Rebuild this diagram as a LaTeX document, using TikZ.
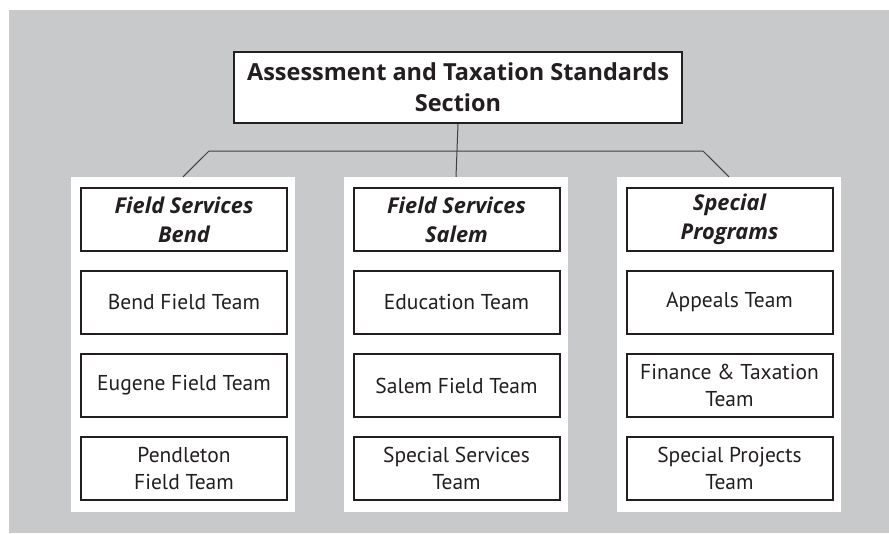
\documentclass[tikz,border=0pt]{standalone}
\usepackage{fontspec}
\setmainfont{PT Sans}
\newfontfamily\boldhead{Open Sans}
\definecolor{BackClr}{RGB}{200,201,203}
\definecolor{InkClr}{RGB}{35,31,32}
\definecolor{LinkClr}{RGB}{64,64,66}

\begin{document}
\begin{tikzpicture}[x=1pt,y=-1pt,
  panel/.style={fill=white,minimum width=224pt,minimum height=335pt,inner sep=0pt},
  unit/.style={draw=InkClr,line width=2pt,fill=white,text=InkClr,align=center,
    minimum width=206pt,minimum height=63pt,inner sep=0pt},
  head/.style={unit,font=\boldhead\fontsize{21.8}{29}\selectfont\bfseries\itshape},
  team/.style={unit,font=\fontsize{21.5}{27}\selectfont},
  link/.style={draw=LinkClr,line width=1pt}]

\useasboundingbox (0,0) rectangle (889,533);
\fill[BackClr] (9,10) rectangle (889,533);

% top of the chart
\node[unit,minimum width=448pt,minimum height=71pt,
  font=\boldhead\fontsize{23.5}{31}\selectfont\bfseries] (ats) at (458,87.5)
  {Assessment and Taxation Standards\\Section};

% the three white columns
\node[panel] (bendcol) at (183,344.5) {};
\node[panel] (salemcol) at (456,344.5) {};
\node[panel] (progcol) at (729,344.5) {};

\coordinate (jl) at (209,151);
\coordinate (jr) at (703,151);

\draw[link] (ats.south) -- (salemcol.north);
\draw[link] (bendcol.north) -- (jl) -- (jr) -- (progcol.north);

% Field Services Bend
\node[head] (fsb) at (184,219.5) {Field Services\\Bend};
\node[team] (bendft) at (184,302.5) {Bend Field Team};
\node[team] (eugft) at (184,385.5) {Eugene Field Team};
\node[team] (pendft) at (184,468.5) {Pendleton\\Field Team};

% Field Services Salem
\node[head] (fss) at (456.5,219.5) {Field Services\\Salem};
\node[team] (edut) at (456.5,302.5) {Education Team};
\node[team] (salemft) at (456.5,385.5) {Salem Field Team};
\node[team] (sst) at (456.5,468.5) {Special Services\\Team};

% Special Programs
\node[head] (sp) at (729.5,219.5) {Special\\Programs};
\node[team] (appt) at (729.5,302.5) {Appeals Team};
\node[team] (fint) at (729.5,385.5) {Finance \& Taxation\\Team};
\node[team] (spt) at (729.5,468.5) {Special Projects\\Team};

\end{tikzpicture}
\end{document}
